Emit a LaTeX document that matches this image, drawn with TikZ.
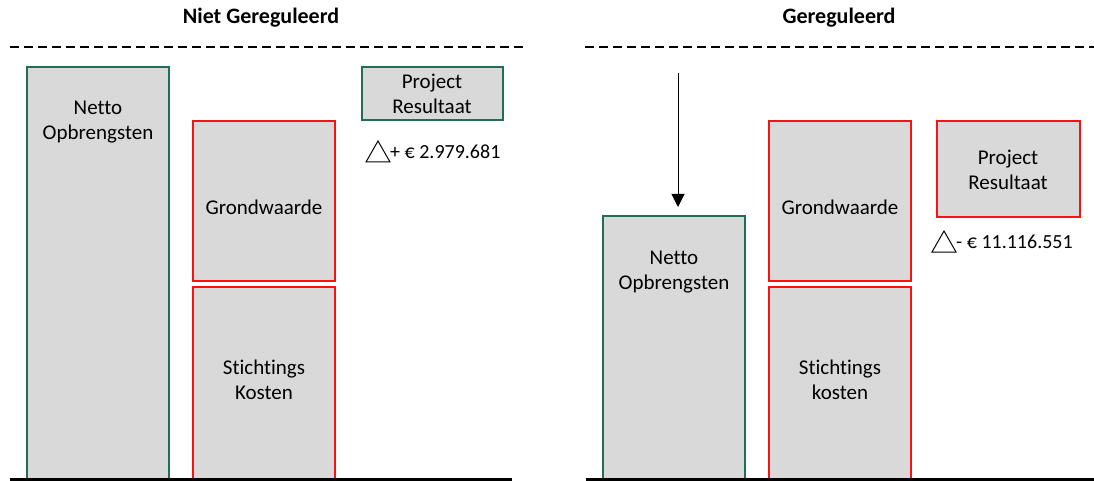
\documentclass[tikz,border=0pt]{standalone}
\usepackage{fontspec}
\setmainfont{Carlito}[Ligatures=NoCommon]
\usetikzlibrary{arrows.meta}
\definecolor{boxgreen}{HTML}{1E7050}
\definecolor{boxred}{HTML}{FF1010}
\definecolor{boxfill}{HTML}{D9D9D9}
\begin{document}
\begin{tikzpicture}[x=1pt,y=-1pt,
  gbox/.style={draw=boxgreen,fill=boxfill,line width=2pt,align=center,inner sep=0pt},
  rbox/.style={draw=boxred,fill=boxfill,line width=2pt,align=center,inner sep=0pt},
  lbl/.style={font=\fontsize{21}{25}\selectfont,align=center},
  num/.style={font=\fontsize{20}{24}\selectfont,anchor=west,inner sep=0pt},
  ttl/.style={font=\fontsize{22}{26}\selectfont\bfseries},
  dline/.style={line width=2pt,dash pattern=on 9pt off 5pt},
  bline/.style={line width=3pt}]
\useasboundingbox (0,0) rectangle (1094,481);
% left panel
\node[ttl] (t1) at (261,18) {Niet Gereguleerd};
\draw[dline] (10,47) -- (527,47);
\draw[gbox] (27,67) rectangle (169,482);
\node[lbl] (n1) at (98,122) {Netto\\Opbrengsten};
\draw[rbox] (193,121) rectangle (335,281);
\node[lbl] (g1) at (264,207) {Grondwaarde};
\draw[rbox] (193,287) rectangle (335,482);
\node[lbl] (s1) at (264,380) {Stichtings\\Kosten};
\draw[gbox] (362,67) rectangle (503,120);
\node[lbl] (p1) at (432,94) {Project\\Resultaat};
\draw[line width=1pt] (366,162) -- (378,141) -- (390,162) -- cycle;
\node[num] (d1) at (390,152) {+ € 2.979.681};
\draw[bline] (10,479.5) -- (512,479.5);
% right panel
\node[ttl] (t2) at (839,18) {Gereguleerd};
\draw[dline] (585,47) -- (1094,47);
\coordinate (a0) at (678,73);
\coordinate (a1) at (678,207);
\draw[line width=1pt,-{Triangle[length=13pt,width=13pt]}] (a0) -- (a1);
\draw[gbox] (603,216) rectangle (745,482);
\node[lbl] (n2) at (674,272) {Netto\\Opbrengsten};
\draw[rbox] (769,121) rectangle (911,281);
\node[lbl] (g2) at (840,207) {Grondwaarde};
\draw[rbox] (769,287) rectangle (911,482);
\node[lbl] (s2) at (840,380) {Stichtings\\kosten};
\draw[rbox] (937,121) rectangle (1080,217);
\node[lbl] (p2) at (1008,170) {Project\\Resultaat};
\draw[line width=1pt] (932,252) -- (944,231) -- (956,252) -- cycle;
\node[num] (d2) at (956,242) {- € 11.116.551};
\draw[bline] (586,479.5) -- (1094,479.5);
\end{tikzpicture}
\end{document}
